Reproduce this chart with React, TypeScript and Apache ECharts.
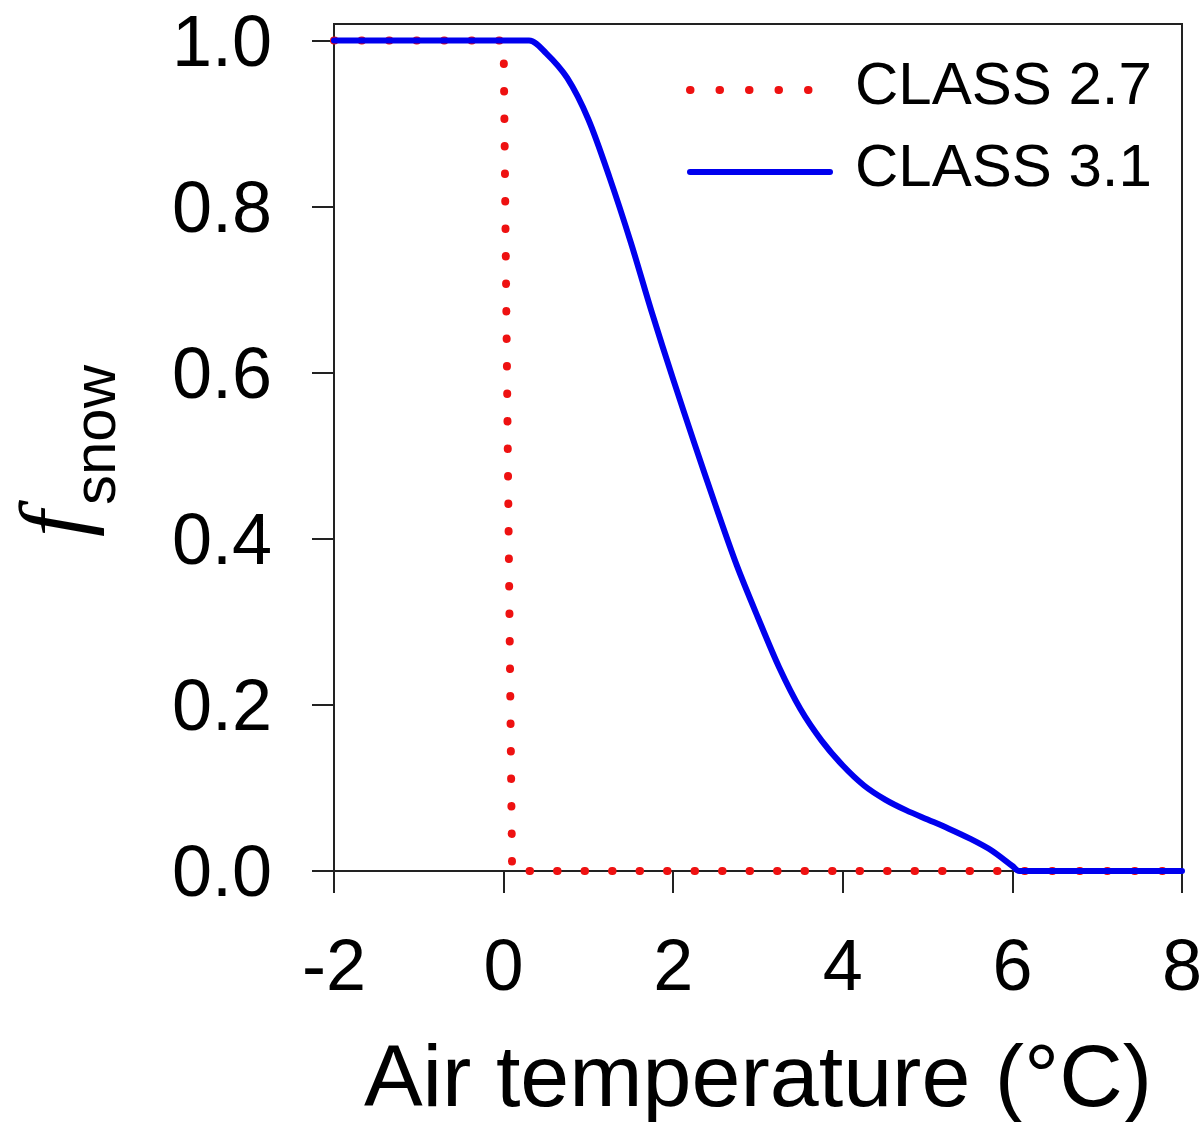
import React, { useEffect, useRef } from "react";
import * as echarts from "echarts";

// CLASS 2.7: step at ~0 °C
const class27Temp = [-2, 0, 0.1, 8];
const class27Frac = [1, 1, 0, 0];

// CLASS 3.1: smooth decline between ~0.3 and 6 °C
const class31Temp = [
  -2, 0.3, 0.5, 0.75, 1.0, 1.25, 1.5, 1.75, 2.0, 2.25, 2.5, 2.75, 3.0, 3.25,
  3.5, 3.75, 4.0, 4.25, 4.5, 4.75, 5.0, 5.25, 5.5, 5.75, 6.0, 6.08, 8,
];
const class31Frac = [
  1, 1, 0.985, 0.955, 0.905, 0.835, 0.757, 0.672, 0.592, 0.515, 0.44, 0.368,
  0.305, 0.245, 0.195, 0.157, 0.127, 0.103, 0.086, 0.073, 0.062, 0.051, 0.039,
  0.025, 0.006, 0, 0,
];

const xMin = -2;
const xMax = 8;
const xInterval = 2;
const yTickValues = [0, 0.2, 0.4, 0.6, 0.8, 1.0];
const yMax = 1.02;

const seriesNames = ["CLASS 2.7", "CLASS 3.1"];
const xAxisTitle = "Air temperature (°C)";

const FONT = "'Liberation Sans', Arial, sans-serif";
const AXIS_COLOR = "#222";
const RED = "#ee1111";
const BLUE = "#0000ee";
const RED_DASH = [0.5, 27];

export default function App() {
  const ref = useRef<HTMLDivElement>(null);

  useEffect(() => {
    if (!ref.current) return;
    const chart = echarts.init(ref.current, undefined, { renderer: "svg" });
    const zip = (xs: number[], ys: number[]) => xs.map((x, i) => [x, ys[i]]);

    chart.setOption({
      animation: false,
      backgroundColor: "#fff",
      grid: {
        left: 334,
        right: 19,
        top: 24,
        bottom: 251,
        show: true,
        borderColor: AXIS_COLOR,
        borderWidth: 2,
        backgroundColor: "transparent",
        containLabel: false,
        outerBoundsMode: "none",
      },
      legend: {
        show: true,
        orient: "vertical",
        left: 686,
        top: 53.5,
        padding: 0,
        itemWidth: 140,
        itemHeight: 20,
        itemGap: 9,
        formatter: "{t|{name}}",
        data: [
          {
            name: seriesNames[0],
            itemStyle: { opacity: 0 },
            lineStyle: { color: RED, width: 8, type: [0.5, 29], cap: "round" },
          },
          {
            name: seriesNames[1],
            itemStyle: { opacity: 0 },
            lineStyle: { color: BLUE, width: 6, type: "solid", cap: "round" },
          },
        ],
        textStyle: {
          fontFamily: FONT,
          fontSize: 60,
          color: "#000",
          lineHeight: 60,
          padding: [0, 0, 13, 20],
          rich: {
            t: { fontFamily: FONT, fontSize: 60, color: "#000", lineHeight: 60 },
          },
        },
      },
      xAxis: {
        type: "value",
        min: xMin,
        max: xMax,
        interval: xInterval,
        name: xAxisTitle,
        nameLocation: "middle",
        nameGap: 164,
        nameTextStyle: { fontFamily: FONT, fontSize: 88, color: "#000", lineHeight: 80 },
        axisLine: { show: true, onZero: false, lineStyle: { color: AXIS_COLOR, width: 2 } },
        axisTick: { show: true, inside: false, length: 22, lineStyle: { color: AXIS_COLOR, width: 2 } },
        axisLabel: { margin: 58, fontFamily: FONT, fontSize: 72, color: "#000" },
        splitLine: { show: false },
      },
      yAxis: {
        type: "value",
        min: 0,
        max: yMax,
        axisLine: { show: true, onZero: false, lineStyle: { color: AXIS_COLOR, width: 2 } },
        axisTick: {
          show: true,
          inside: false,
          length: 22,
          customValues: yTickValues,
          lineStyle: { color: AXIS_COLOR, width: 2 },
        },
        axisLabel: {
          margin: 62,
          fontFamily: FONT,
          fontSize: 72,
          color: "#000",
          customValues: yTickValues,
          formatter: (v: number) => v.toFixed(1),
        },
        splitLine: { show: false },
      },
      graphic: [
        {
          type: "text",
          x: 52,
          y: 524,
          rotation: Math.PI / 2,
          style: {
            text: "f",
            fontFamily: "'Liberation Serif', 'Times New Roman', serif",
            fontStyle: "italic",
            fontSize: 94,
            lineHeight: 80,
            fill: "#000",
            align: "center",
            verticalAlign: "middle",
          },
        },
        {
          type: "text",
          x: 94,
          y: 505,
          rotation: Math.PI / 2,
          style: {
            text: "snow",
            fontFamily: FONT,
            fontSize: 60,
            fill: "#000",
            align: "left",
            verticalAlign: "middle",
          },
        },
      ],
      series: [
        {
          name: seriesNames[0],
          type: "line",
          data: zip(class27Temp, class27Frac),
          symbol: "none",
          lineStyle: { color: RED, width: 8, type: RED_DASH, cap: "round" },
          itemStyle: { color: RED },
          z: 2,
        },
        {
          name: seriesNames[1],
          type: "line",
          data: zip(class31Temp, class31Frac),
          symbol: "none",
          smooth: 0.3,
          lineStyle: { color: BLUE, width: 6, cap: "round", join: "round" },
          itemStyle: { color: BLUE },
          z: 3,
        },
      ],
    });

    return () => chart.dispose();
  }, []);

  return (
    <div
      ref={ref}
      style={{ position: "fixed", left: 0, top: 0, width: 1201, height: 1122, background: "#fff" }}
    />
  );
}
